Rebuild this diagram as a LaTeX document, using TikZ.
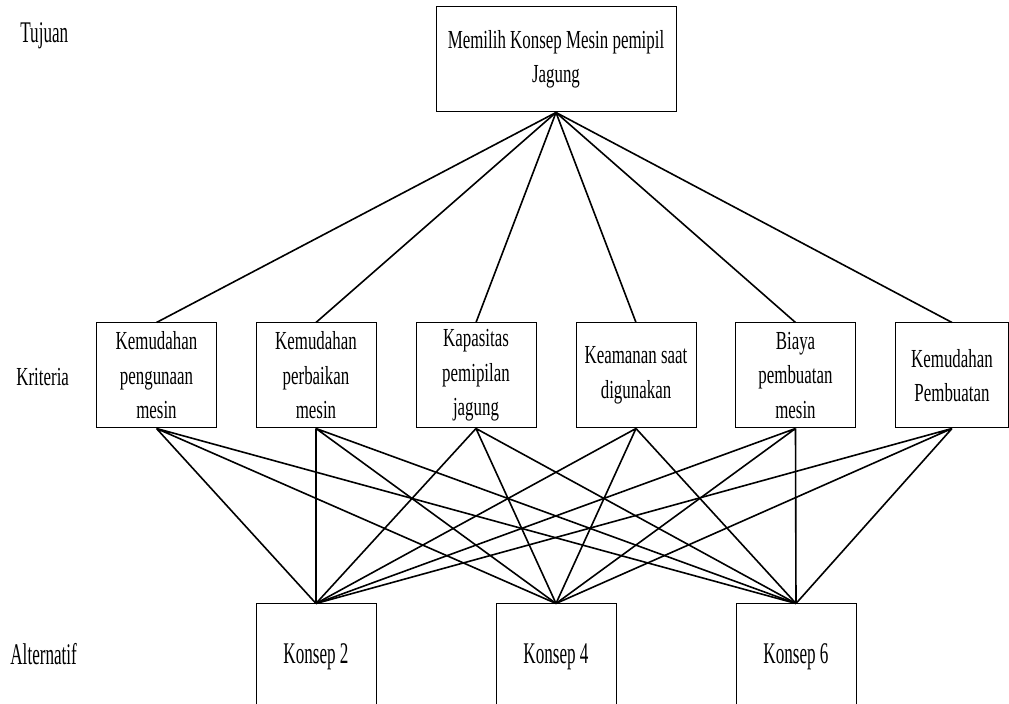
\documentclass[tikz,border=0pt]{standalone}
\usepackage{fontspec}
\setmainfont{Liberation Serif}[FakeStretch=0.65]
\newfontfamily\bigserif{Liberation Serif}[FakeStretch=0.57]
\usepackage{tikz}
\usetikzlibrary{shapes,arrows}
\tikzstyle{block} = [draw, line width=0.5pt, rectangle, align=center, inner sep=0pt, minimum width=60pt, minimum height=52.5pt]
\tikzstyle{link} = [draw, line width=0.8pt]
\tikzstyle{level} = [anchor=base west, inner sep=0pt, font=\bigserif\fontsize{15}{18}\selectfont]

\begin{document}
\begin{tikzpicture}[x=0.5pt,y=-0.5pt]
	\tikzstyle{every node}=[font=\fontsize{13}{17.25}\selectfont]
	\useasboundingbox (0,0) rectangle (1009,704);

	% ------------------- Level labels ------------------- %
	\node[level] (tuj) at (20,43) {Tujuan};
	\node[level, font=\fontsize{13}{17.25}\selectfont] (kri) at (16,386) {Kriteria};
	\node[level] (alt) at (10,665) {Alternatif};

	% ------------------- Goal ------------------- %
	\node[block, minimum width=120pt] (goal) at (556,59.5) {Memilih Konsep Mesin pemipil\\Jagung};

	% ------------------- Criteria ------------------- %
	\node[block] (k1) at (156.5,375.5) {Kemudahan\\pengunaan\\mesin};
	\node[block] (k2) at (316,375.5) {Kemudahan\\perbaikan\\mesin};
	\node[block] (k3) at (476,375.5) {Kapasitas\\pemipilan\\jagung};
	\node[block] (k4) at (636,375.5) {Keamanan saat\\digunakan};
	\node[block] (k5) at (795.5,375.5) {Biaya\\pembuatan\\mesin};
	\node[block, minimum width=56.5pt] (k6) at (952,375.5) {Kemudahan\\Pembuatan};

	% ------------------- Alternatives ------------------- %
	\node[block, font=\bigserif\fontsize{15}{18}\selectfont] (a2) at (316,656.5) {Konsep 2};
	\node[block, font=\bigserif\fontsize{15}{18}\selectfont] (a4) at (556,656.5) {Konsep 4};
	\node[block, font=\bigserif\fontsize{15}{18}\selectfont] (a6) at (796,656.5) {Konsep 6};

	% ------------------- Goal to criteria ------------------- %
	\draw[link] (goal.south) -- (k1.north);
	\draw[link] (goal.south) -- (k2.north);
	\draw[link] (goal.south) -- (k3.north);
	\draw[link] (goal.south) -- (k4.north);
	\draw[link] (goal.south) -- (k5.north);
	\draw[link] (goal.south) -- (k6.north);

	% ------------------- Criteria to alternatives ------------------- %
	\draw[link] (k1.south) -- (a2.north) (k1.south) -- (a4.north) (k1.south) -- (a6.north);
	\draw[link] (k2.south) -- (a2.north) (k2.south) -- (a4.north) (k2.south) -- (a6.north);
	\draw[link] (k3.south) -- (a2.north) (k3.south) -- (a4.north) (k3.south) -- (a6.north);
	\draw[link] (k4.south) -- (a2.north) (k4.south) -- (a4.north) (k4.south) -- (a6.north);
	\draw[link] (k5.south) -- (a2.north) (k5.south) -- (a4.north) (k5.south) -- (a6.north);
	\draw[link] (k6.south) -- (a2.north) (k6.south) -- (a4.north) (k6.south) -- (a6.north);
\end{tikzpicture}
\end{document}
